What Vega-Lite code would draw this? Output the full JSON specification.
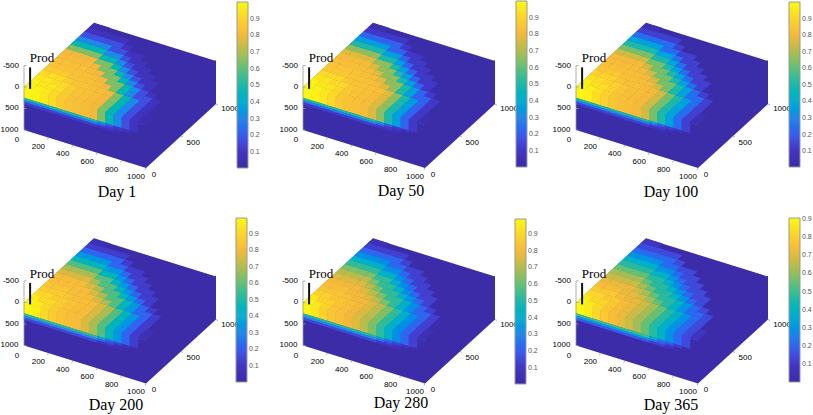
{"$schema":"https://vega.github.io/schema/vega-lite/v6.json","padding":0,"background":"white","bounds":"flush","spacing":0,"columns":3,"resolve":{"scale":{"color":"independent"}},
"config":{"view":{"stroke":null},"range":{"symbol":["M0,0L122,38L122,81L0,43Z","M0,-1L70,-65L70,-21L0,43Z","M0,0L122,38L192,-26L70,-64Z","M-0.3,0L8.3,2.7L13.1,-1.9L4.7,-4.6Z","M-0.2,-0.5L8.5,2.2L8.5,13.4L-0.2,10.8Z","M-0.2,-0.1L8.5,2.5L8.5,5L-0.2,2.4Z","M0,0L0,-64.5","M0,0L2.5,0","M0,0L-1,2","M0,0L2,1","M0,0L0,-21.5"],"ramp":["#3B2BA6","#4235C4","#3A5CF0","#2A86E8","#10AED0","#1CB9A8","#5FC078","#B0BC50","#F5B83C","#FCD42A","#F8FA12"]},
"style":{"tk":{"font":"Liberation Sans","fontSize":8,"fill":"#555"},"pr":{"font":"Liberation Serif","fontSize":13,"fill":"#222"},"dy":{"font":"Liberation Serif","fontSize":16,"fill":"#111"}},
"legend":{"type":"gradient","title":null,"orient":"none","gradientThickness":11,"gradientStrokeColor":"#999","gradientStrokeWidth":1,"labelFont":"Liberation Sans","labelFontSize":7,"labelColor":"#555","labelOverlap":false}},
"datasets":{"lv":[
{"L":0,"d1":0.99,"d50":0.99,"d100":0.99,"d200":0.99,"d280":0.98,"d365":0.9},
{"L":1,"d1":0.98,"d50":0.98,"d100":0.97,"d200":0.96,"d280":0.94,"d365":0.87},
{"L":2,"d1":0.95,"d50":0.95,"d100":0.93,"d200":0.91,"d280":0.88,"d365":0.82},
{"L":3,"d1":0.92,"d50":0.91,"d100":0.89,"d200":0.87,"d280":0.84,"d365":0.78},
{"L":4,"d1":0.87,"d50":0.86,"d100":0.85,"d200":0.84,"d280":0.82,"d365":0.74},
{"L":5,"d1":0.84,"d50":0.84,"d100":0.83,"d200":0.82,"d280":0.79,"d365":0.71},
{"L":6,"d1":0.83,"d50":0.83,"d100":0.82,"d200":0.81,"d280":0.76,"d365":0.67},
{"L":7,"d1":0.82,"d50":0.82,"d100":0.81,"d200":0.76,"d280":0.71,"d365":0.62},
{"L":8,"d1":0.8,"d50":0.77,"d100":0.75,"d200":0.69,"d280":0.63,"d365":0.55},
{"L":9,"d1":0.64,"d50":0.66,"d100":0.63,"d200":0.58,"d280":0.53,"d365":0.47},
{"L":10,"d1":0.48,"d50":0.5,"d100":0.5,"d200":0.46,"d280":0.42,"d365":0.39},
{"L":11,"d1":0.31,"d50":0.36,"d100":0.37,"d200":0.34,"d280":0.32,"d365":0.3},
{"L":12,"d1":0.17,"d50":0.22,"d100":0.24,"d200":0.22,"d280":0.22,"d365":0.21},
{"L":13,"d1":0.08,"d50":0.11,"d100":0.13,"d200":0.12,"d280":0.13,"d365":0.14},
{"L":14,"d1":0.03,"d50":0.04,"d100":0.05,"d200":0.05,"d280":0.06,"d365":0.08},
{"L":20,"d1":0.5,"d50":0.5,"d100":0.5,"d200":0.52,"d280":0.5,"d365":0.5},
{"L":21,"d1":0.36,"d50":0.38,"d100":0.38,"d200":0.38,"d280":0.38,"d365":0.38},
{"L":22,"d1":0.27,"d50":0.28,"d100":0.28,"d200":0.3,"d280":0.3,"d365":0.33},
{"L":23,"d1":0.2,"d50":0.2,"d100":0.2,"d200":0.22,"d280":0.22,"d365":0.24},
{"L":24,"d1":0.12,"d50":0.12,"d100":0.13,"d200":0.15,"d280":0.15,"d365":0.17},
{"L":25,"d1":0.07,"d50":0.07,"d100":0.08,"d200":0.08,"d280":0.1,"d365":0.11},
{"L":26,"d1":0.04,"d50":0.04,"d100":0.04,"d200":0.05,"d280":0.05,"d365":0.06},
{"L":99,"d1":0.01,"d50":0.01,"d100":0.01,"d200":0.01,"d280":0.01,"d365":0.01}],
"r":[
{"f":"A","x":0,"y":0,"L":99},{"f":"B","x":1000,"y":0,"L":99},{"f":"C","x":0,"y":0,"L":99},
{"f":"D","x":0,"y":0,"L":0},{"f":"D","x":67,"y":0,"L":1},{"f":"D","x":133,"y":0,"L":2},{"f":"D","x":200,"y":0,"L":3},{"f":"D","x":267,"y":0,"L":4},{"f":"D","x":333,"y":0,"L":5},{"f":"D","x":400,"y":0,"L":6},{"f":"D","x":467,"y":0,"L":7},{"f":"D","x":533,"y":0,"L":8},{"f":"D","x":600,"y":0,"L":9},{"f":"D","x":667,"y":0,"L":10},{"f":"D","x":733,"y":0,"L":11},{"f":"D","x":800,"y":0,"L":12},{"f":"D","x":867,"y":0,"L":13},{"f":"D","x":933,"y":0,"L":14},
{"f":"D","x":0,"y":67,"L":1},{"f":"D","x":67,"y":67,"L":2},{"f":"D","x":133,"y":67,"L":2},{"f":"D","x":200,"y":67,"L":3},{"f":"D","x":267,"y":67,"L":4},{"f":"D","x":333,"y":67,"L":5},{"f":"D","x":400,"y":67,"L":6},{"f":"D","x":467,"y":67,"L":7},{"f":"D","x":533,"y":67,"L":8},{"f":"D","x":600,"y":67,"L":9},{"f":"D","x":667,"y":67,"L":10},{"f":"D","x":733,"y":67,"L":11},{"f":"D","x":800,"y":67,"L":12},{"f":"D","x":867,"y":67,"L":13},{"f":"D","x":933,"y":67,"L":14},
{"f":"D","x":0,"y":133,"L":2},{"f":"D","x":67,"y":133,"L":2},{"f":"D","x":133,"y":133,"L":3},{"f":"D","x":200,"y":133,"L":3},{"f":"D","x":267,"y":133,"L":4},{"f":"D","x":333,"y":133,"L":5},{"f":"D","x":400,"y":133,"L":6},{"f":"D","x":467,"y":133,"L":7},{"f":"D","x":533,"y":133,"L":8},{"f":"D","x":600,"y":133,"L":9},{"f":"D","x":667,"y":133,"L":10},{"f":"D","x":733,"y":133,"L":11},{"f":"D","x":800,"y":133,"L":12},{"f":"D","x":867,"y":133,"L":13},
{"f":"D","x":0,"y":200,"L":3},{"f":"D","x":67,"y":200,"L":3},{"f":"D","x":133,"y":200,"L":3},{"f":"D","x":200,"y":200,"L":4},{"f":"D","x":267,"y":200,"L":5},{"f":"D","x":333,"y":200,"L":5},{"f":"D","x":400,"y":200,"L":6},{"f":"D","x":467,"y":200,"L":7},{"f":"D","x":533,"y":200,"L":8},{"f":"D","x":600,"y":200,"L":9},{"f":"D","x":667,"y":200,"L":10},{"f":"D","x":733,"y":200,"L":11},{"f":"D","x":800,"y":200,"L":12},{"f":"D","x":867,"y":200,"L":13},
{"f":"D","x":0,"y":267,"L":4},{"f":"D","x":67,"y":267,"L":4},{"f":"D","x":133,"y":267,"L":4},{"f":"D","x":200,"y":267,"L":5},{"f":"D","x":267,"y":267,"L":5},{"f":"D","x":333,"y":267,"L":6},{"f":"D","x":400,"y":267,"L":7},{"f":"D","x":467,"y":267,"L":8},{"f":"D","x":533,"y":267,"L":9},{"f":"D","x":600,"y":267,"L":10},{"f":"D","x":667,"y":267,"L":11},{"f":"D","x":733,"y":267,"L":12},{"f":"D","x":800,"y":267,"L":12},{"f":"D","x":867,"y":267,"L":13},
{"f":"D","x":0,"y":333,"L":5},{"f":"D","x":67,"y":333,"L":5},{"f":"D","x":133,"y":333,"L":5},{"f":"D","x":200,"y":333,"L":5},{"f":"D","x":267,"y":333,"L":6},{"f":"D","x":333,"y":333,"L":7},{"f":"D","x":400,"y":333,"L":8},{"f":"D","x":467,"y":333,"L":9},{"f":"D","x":533,"y":333,"L":9},{"f":"D","x":600,"y":333,"L":10},{"f":"D","x":667,"y":333,"L":11},{"f":"D","x":733,"y":333,"L":12},{"f":"D","x":800,"y":333,"L":13},
{"f":"D","x":0,"y":400,"L":6},{"f":"D","x":67,"y":400,"L":6},{"f":"D","x":133,"y":400,"L":6},{"f":"D","x":200,"y":400,"L":6},{"f":"D","x":267,"y":400,"L":7},{"f":"D","x":333,"y":400,"L":8},{"f":"D","x":400,"y":400,"L":9},{"f":"D","x":467,"y":400,"L":9},{"f":"D","x":533,"y":400,"L":10},{"f":"D","x":600,"y":400,"L":11},{"f":"D","x":667,"y":400,"L":12},{"f":"D","x":733,"y":400,"L":13},
{"f":"D","x":0,"y":467,"L":7},{"f":"D","x":67,"y":467,"L":7},{"f":"D","x":133,"y":467,"L":7},{"f":"D","x":200,"y":467,"L":7},{"f":"D","x":267,"y":467,"L":8},{"f":"D","x":333,"y":467,"L":9},{"f":"D","x":400,"y":467,"L":9},{"f":"D","x":467,"y":467,"L":10},{"f":"D","x":533,"y":467,"L":11},{"f":"D","x":600,"y":467,"L":12},{"f":"D","x":667,"y":467,"L":13},{"f":"D","x":733,"y":467,"L":13},
{"f":"D","x":0,"y":533,"L":8},{"f":"D","x":67,"y":533,"L":8},{"f":"D","x":133,"y":533,"L":8},{"f":"D","x":200,"y":533,"L":8},{"f":"D","x":267,"y":533,"L":9},{"f":"D","x":333,"y":533,"L":9},{"f":"D","x":400,"y":533,"L":10},{"f":"D","x":467,"y":533,"L":11},{"f":"D","x":533,"y":533,"L":12},{"f":"D","x":600,"y":533,"L":13},{"f":"D","x":667,"y":533,"L":13},
{"f":"D","x":0,"y":600,"L":9},{"f":"D","x":67,"y":600,"L":9},{"f":"D","x":133,"y":600,"L":9},{"f":"D","x":200,"y":600,"L":9},{"f":"D","x":267,"y":600,"L":10},{"f":"D","x":333,"y":600,"L":10},{"f":"D","x":400,"y":600,"L":11},{"f":"D","x":467,"y":600,"L":12},{"f":"D","x":533,"y":600,"L":13},{"f":"D","x":600,"y":600,"L":13},
{"f":"D","x":0,"y":667,"L":10},{"f":"D","x":67,"y":667,"L":10},{"f":"D","x":133,"y":667,"L":10},{"f":"D","x":200,"y":667,"L":10},{"f":"D","x":267,"y":667,"L":11},{"f":"D","x":333,"y":667,"L":11},{"f":"D","x":400,"y":667,"L":12},{"f":"D","x":467,"y":667,"L":13},{"f":"D","x":533,"y":667,"L":13},
{"f":"D","x":0,"y":733,"L":11},{"f":"D","x":67,"y":733,"L":11},{"f":"D","x":133,"y":733,"L":11},{"f":"D","x":200,"y":733,"L":11},{"f":"D","x":267,"y":733,"L":12},{"f":"D","x":333,"y":733,"L":12},{"f":"D","x":400,"y":733,"L":13},{"f":"D","x":467,"y":733,"L":13},
{"f":"D","x":0,"y":800,"L":12},{"f":"D","x":67,"y":800,"L":12},{"f":"D","x":133,"y":800,"L":12},{"f":"D","x":200,"y":800,"L":12},{"f":"D","x":267,"y":800,"L":12},{"f":"D","x":333,"y":800,"L":13},
{"f":"D","x":0,"y":867,"L":13},{"f":"D","x":67,"y":867,"L":13},{"f":"D","x":133,"y":867,"L":13},{"f":"D","x":200,"y":867,"L":13},{"f":"D","x":267,"y":867,"L":13},
{"f":"D","x":0,"y":933,"L":14},{"f":"D","x":67,"y":933,"L":14},
{"f":"E","x":0,"y":0,"L":0},{"f":"E","x":67,"y":0,"L":1},{"f":"E","x":133,"y":0,"L":2},{"f":"E","x":200,"y":0,"L":3},{"f":"E","x":267,"y":0,"L":4},{"f":"E","x":333,"y":0,"L":5},{"f":"E","x":400,"y":0,"L":6},{"f":"E","x":467,"y":0,"L":7},{"f":"E","x":533,"y":0,"L":8},{"f":"E","x":600,"y":0,"L":9},{"f":"E","x":667,"y":0,"L":10},{"f":"E","x":733,"y":0,"L":11},{"f":"E","x":800,"y":0,"L":12},{"f":"E","x":867,"y":0,"L":13},
{"f":"H","x":0,"y":0,"z":250,"L":20},{"f":"H","x":67,"y":0,"z":250,"L":20},{"f":"H","x":133,"y":0,"z":250,"L":20},{"f":"H","x":200,"y":0,"z":250,"L":20},{"f":"H","x":267,"y":0,"z":250,"L":20},{"f":"H","x":333,"y":0,"z":250,"L":20},{"f":"H","x":400,"y":0,"z":250,"L":20},{"f":"H","x":467,"y":0,"z":250,"L":20},{"f":"H","x":533,"y":0,"z":250,"L":20},{"f":"H","x":600,"y":0,"z":250,"L":21},{"f":"H","x":667,"y":0,"z":250,"L":23},{"f":"H","x":733,"y":0,"z":250,"L":24},{"f":"H","x":800,"y":0,"z":250,"L":25},
{"f":"H","x":0,"y":0,"z":300,"L":22},{"f":"H","x":67,"y":0,"z":300,"L":22},{"f":"H","x":133,"y":0,"z":300,"L":22},{"f":"H","x":200,"y":0,"z":300,"L":22},{"f":"H","x":267,"y":0,"z":300,"L":22},{"f":"H","x":333,"y":0,"z":300,"L":22},{"f":"H","x":400,"y":0,"z":300,"L":22},{"f":"H","x":467,"y":0,"z":300,"L":22},{"f":"H","x":533,"y":0,"z":300,"L":22},{"f":"H","x":600,"y":0,"z":300,"L":23},{"f":"H","x":667,"y":0,"z":300,"L":24},{"f":"H","x":733,"y":0,"z":300,"L":25},
{"f":"H","x":0,"y":0,"z":350,"L":24},{"f":"H","x":67,"y":0,"z":350,"L":24},{"f":"H","x":133,"y":0,"z":350,"L":24},{"f":"H","x":200,"y":0,"z":350,"L":24},{"f":"H","x":267,"y":0,"z":350,"L":24},{"f":"H","x":333,"y":0,"z":350,"L":24},{"f":"H","x":400,"y":0,"z":350,"L":24},{"f":"H","x":467,"y":0,"z":350,"L":24},{"f":"H","x":533,"y":0,"z":350,"L":24},{"f":"H","x":600,"y":0,"z":350,"L":25},{"f":"H","x":667,"y":0,"z":350,"L":25},{"f":"H","x":733,"y":0,"z":350,"L":26},
{"f":"I","s":1,"x":0,"y":0,"z":1000},
{"f":"J","s":1,"x":0,"y":0,"z":-500},{"f":"J","s":1,"x":0,"y":0,"z":0},{"f":"J","s":1,"x":0,"y":0,"z":500},{"f":"J","s":1,"x":0,"y":0,"z":1000},
{"f":"K","s":1,"x":200,"y":0,"z":1000},{"f":"K","s":1,"x":400,"y":0,"z":1000},{"f":"K","s":1,"x":600,"y":0,"z":1000},{"f":"K","s":1,"x":800,"y":0,"z":1000},{"f":"K","s":1,"x":1000,"y":0,"z":1000},
{"f":"M","s":1,"x":1000,"y":500,"z":1000},{"f":"M","s":1,"x":1000,"y":1000,"z":1000},
{"f":"P","s":1,"x":50,"y":0,"z":0},
{"t":"0","x":25,"y":-143,"z":1000},{"t":"200","x":200,"y":-143,"z":1000},{"t":"400","x":400,"y":-143,"z":1000},{"t":"600","x":600,"y":-143,"z":1000},{"t":"800","x":800,"y":-143,"z":1000},{"t":"1000","x":1000,"y":-143,"z":990},
{"t":"0","x":1065,"y":0,"z":1100},{"t":"500","x":1100,"y":500,"z":1070},{"t":"1000","x":1115,"y":1000,"z":1015},
{"t":"-500","x":-107,"y":0,"z":-405},{"t":"0","x":-57,"y":0,"z":50},{"t":"500","x":-98,"y":0,"z":586},{"t":"1000","x":-119,"y":0,"z":1105},
{"p":"Prod","x":148,"y":0,"z":-805},
{"c":"Day 1","x":762,"y":0,"z":1767},{"c":"Day 50","x":803,"y":0,"z":1709},{"c":"Day 100","x":779,"y":0,"z":1753},{"c":"Day 200","x":754,"y":0,"z":1715},{"c":"Day 280","x":803,"y":0,"z":1625},{"c":"Day 365","x":779,"y":0,"z":1695}]},
"data":{"name":"r"},
"transform":[{"calculate":"datum.x*0.122+datum.y*0.07","as":"px"},{"calculate":"datum.x*0.038-datum.y*0.064+(datum.z||0)*0.043","as":"py"}],
"concat":[
{"width":271,"height":207,"transform":[{"lookup":"L","from":{"data":{"name":"lv"},"key":"L","fields":["d1"]}}],"encoding":{"x":{"field":"px","type":"quantitative","axis":null,"scale":{"domain":[-23,248]}},"y":{"field":"py","type":"quantitative","axis":null,"scale":{"domain":[120,-87]}}},"layer":[
{"transform":[{"filter":"datum.L>=0"}],"mark":{"type":"point","filled":true,"size":4,"opacity":1},"encoding":{"shape":{"field":"f","type":"nominal","legend":null},"color":{"field":"d1","type":"quantitative","scale":{"domain":[0.004,1]},"legend":{"legendX":236,"legendY":2,"gradientLength":166,"values":[0.1,0.2,0.3,0.4,0.5,0.6,0.7,0.8,0.9]}}}},
{"transform":[{"filter":"datum.s"}],"mark":{"type":"point","filled":false,"size":4,"opacity":1},"encoding":{"shape":{"field":"f","type":"nominal","legend":null},"stroke":{"condition":{"test":"datum.f=='P'","value":"#111"},"value":"#999"},"strokeWidth":{"condition":{"test":"datum.f=='P'","value":2},"value":0.8}}},
{"transform":[{"filter":"datum.t"}],"mark":{"type":"text","style":"tk"},"encoding":{"text":{"field":"t"}}},
{"transform":[{"filter":"datum.p"}],"mark":{"type":"text","style":"pr"},"encoding":{"text":{"field":"p"}}},
{"transform":[{"filter":"datum.c=='Day 1'"}],"mark":{"type":"text","style":"dy"},"encoding":{"text":{"field":"c"}}}]},
{"width":271,"height":207,"transform":[{"lookup":"L","from":{"data":{"name":"lv"},"key":"L","fields":["d50"]}}],"encoding":{"x":{"field":"px","type":"quantitative","axis":null,"scale":{"domain":[-31,240]}},"y":{"field":"py","type":"quantitative","axis":null,"scale":{"domain":[120,-87]}}},"layer":[
{"transform":[{"filter":"datum.L>=0"}],"mark":{"type":"point","filled":true,"size":4,"opacity":1},"encoding":{"shape":{"field":"f","type":"nominal","legend":null},"color":{"field":"d50","type":"quantitative","scale":{"domain":[0.004,1]},"legend":{"legendX":244,"legendY":1,"gradientLength":166,"values":[0.1,0.2,0.3,0.4,0.5,0.6,0.7,0.8,0.9]}}}},
{"transform":[{"filter":"datum.s"}],"mark":{"type":"point","filled":false,"size":4,"opacity":1},"encoding":{"shape":{"field":"f","type":"nominal","legend":null},"stroke":{"condition":{"test":"datum.f=='P'","value":"#111"},"value":"#999"},"strokeWidth":{"condition":{"test":"datum.f=='P'","value":2},"value":0.8}}},
{"transform":[{"filter":"datum.t"}],"mark":{"type":"text","style":"tk"},"encoding":{"text":{"field":"t"}}},
{"transform":[{"filter":"datum.p"}],"mark":{"type":"text","style":"pr"},"encoding":{"text":{"field":"p"}}},
{"transform":[{"filter":"datum.c=='Day 50'"}],"mark":{"type":"text","style":"dy"},"encoding":{"text":{"field":"c"}}}]},
{"width":271,"height":207,"transform":[{"lookup":"L","from":{"data":{"name":"lv"},"key":"L","fields":["d100"]}}],"encoding":{"x":{"field":"px","type":"quantitative","axis":null,"scale":{"domain":[-33,238]}},"y":{"field":"py","type":"quantitative","axis":null,"scale":{"domain":[120,-87]}}},"layer":[
{"transform":[{"filter":"datum.L>=0"}],"mark":{"type":"point","filled":true,"size":4,"opacity":1},"encoding":{"shape":{"field":"f","type":"nominal","legend":null},"color":{"field":"d100","type":"quantitative","scale":{"domain":[0.004,1]},"legend":{"legendX":246,"legendY":2,"gradientLength":165,"values":[0.1,0.2,0.3,0.4,0.5,0.6,0.7,0.8,0.9]}}}},
{"transform":[{"filter":"datum.s"}],"mark":{"type":"point","filled":false,"size":4,"opacity":1},"encoding":{"shape":{"field":"f","type":"nominal","legend":null},"stroke":{"condition":{"test":"datum.f=='P'","value":"#111"},"value":"#999"},"strokeWidth":{"condition":{"test":"datum.f=='P'","value":2},"value":0.8}}},
{"transform":[{"filter":"datum.t"}],"mark":{"type":"text","style":"tk"},"encoding":{"text":{"field":"t"}}},
{"transform":[{"filter":"datum.p"}],"mark":{"type":"text","style":"pr"},"encoding":{"text":{"field":"p"}}},
{"transform":[{"filter":"datum.c=='Day 100'"}],"mark":{"type":"text","style":"dy"},"encoding":{"text":{"field":"c"}}}]},
{"width":271,"height":207,"transform":[{"lookup":"L","from":{"data":{"name":"lv"},"key":"L","fields":["d200"]}}],"encoding":{"x":{"field":"px","type":"quantitative","axis":null,"scale":{"domain":[-23,248]}},"y":{"field":"py","type":"quantitative","axis":null,"scale":{"domain":[111.5,-95.5]}}},"layer":[
{"transform":[{"filter":"datum.L>=0"}],"mark":{"type":"point","filled":true,"size":4,"opacity":1},"encoding":{"shape":{"field":"f","type":"nominal","legend":null},"color":{"field":"d200","type":"quantitative","scale":{"domain":[0.003,0.995]},"legend":{"legendX":235,"legendY":11,"gradientLength":164,"values":[0.1,0.2,0.3,0.4,0.5,0.6,0.7,0.8,0.9]}}}},
{"transform":[{"filter":"datum.s"}],"mark":{"type":"point","filled":false,"size":4,"opacity":1},"encoding":{"shape":{"field":"f","type":"nominal","legend":null},"stroke":{"condition":{"test":"datum.f=='P'","value":"#111"},"value":"#999"},"strokeWidth":{"condition":{"test":"datum.f=='P'","value":2},"value":0.8}}},
{"transform":[{"filter":"datum.t"}],"mark":{"type":"text","style":"tk"},"encoding":{"text":{"field":"t"}}},
{"transform":[{"filter":"datum.p"}],"mark":{"type":"text","style":"pr"},"encoding":{"text":{"field":"p"}}},
{"transform":[{"filter":"datum.c=='Day 200'"}],"mark":{"type":"text","style":"dy"},"encoding":{"text":{"field":"c"}}}]},
{"width":271,"height":207,"transform":[{"lookup":"L","from":{"data":{"name":"lv"},"key":"L","fields":["d280"]}}],"encoding":{"x":{"field":"px","type":"quantitative","axis":null,"scale":{"domain":[-31,240]}},"y":{"field":"py","type":"quantitative","axis":null,"scale":{"domain":[111.5,-95.5]}}},"layer":[
{"transform":[{"filter":"datum.L>=0"}],"mark":{"type":"point","filled":true,"size":4,"opacity":1},"encoding":{"shape":{"field":"f","type":"nominal","legend":null},"color":{"field":"d280","type":"quantitative","scale":{"domain":[0.003,0.99]},"legend":{"legendX":243,"legendY":12,"gradientLength":165,"values":[0.1,0.2,0.3,0.4,0.5,0.6,0.7,0.8,0.9]}}}},
{"transform":[{"filter":"datum.s"}],"mark":{"type":"point","filled":false,"size":4,"opacity":1},"encoding":{"shape":{"field":"f","type":"nominal","legend":null},"stroke":{"condition":{"test":"datum.f=='P'","value":"#111"},"value":"#999"},"strokeWidth":{"condition":{"test":"datum.f=='P'","value":2},"value":0.8}}},
{"transform":[{"filter":"datum.t"}],"mark":{"type":"text","style":"tk"},"encoding":{"text":{"field":"t"}}},
{"transform":[{"filter":"datum.p"}],"mark":{"type":"text","style":"pr"},"encoding":{"text":{"field":"p"}}},
{"transform":[{"filter":"datum.c=='Day 280'"}],"mark":{"type":"text","style":"dy"},"encoding":{"text":{"field":"c"}}}]},
{"width":271,"height":207,"transform":[{"lookup":"L","from":{"data":{"name":"lv"},"key":"L","fields":["d365"]}}],"encoding":{"x":{"field":"px","type":"quantitative","axis":null,"scale":{"domain":[-33,238]}},"y":{"field":"py","type":"quantitative","axis":null,"scale":{"domain":[111.5,-95.5]}}},"layer":[
{"transform":[{"filter":"datum.L>=0"}],"mark":{"type":"point","filled":true,"size":4,"opacity":1},"encoding":{"shape":{"field":"f","type":"nominal","legend":null},"color":{"field":"d365","type":"quantitative","scale":{"domain":[0.002,0.905]},"legend":{"legendX":246,"legendY":11,"gradientLength":164,"values":[0.1,0.2,0.3,0.4,0.5,0.6,0.7,0.8,0.9]}}}},
{"transform":[{"filter":"datum.s"}],"mark":{"type":"point","filled":false,"size":4,"opacity":1},"encoding":{"shape":{"field":"f","type":"nominal","legend":null},"stroke":{"condition":{"test":"datum.f=='P'","value":"#111"},"value":"#999"},"strokeWidth":{"condition":{"test":"datum.f=='P'","value":2},"value":0.8}}},
{"transform":[{"filter":"datum.t"}],"mark":{"type":"text","style":"tk"},"encoding":{"text":{"field":"t"}}},
{"transform":[{"filter":"datum.p"}],"mark":{"type":"text","style":"pr"},"encoding":{"text":{"field":"p"}}},
{"transform":[{"filter":"datum.c=='Day 365'"}],"mark":{"type":"text","style":"dy"},"encoding":{"text":{"field":"c"}}}]}
]}
